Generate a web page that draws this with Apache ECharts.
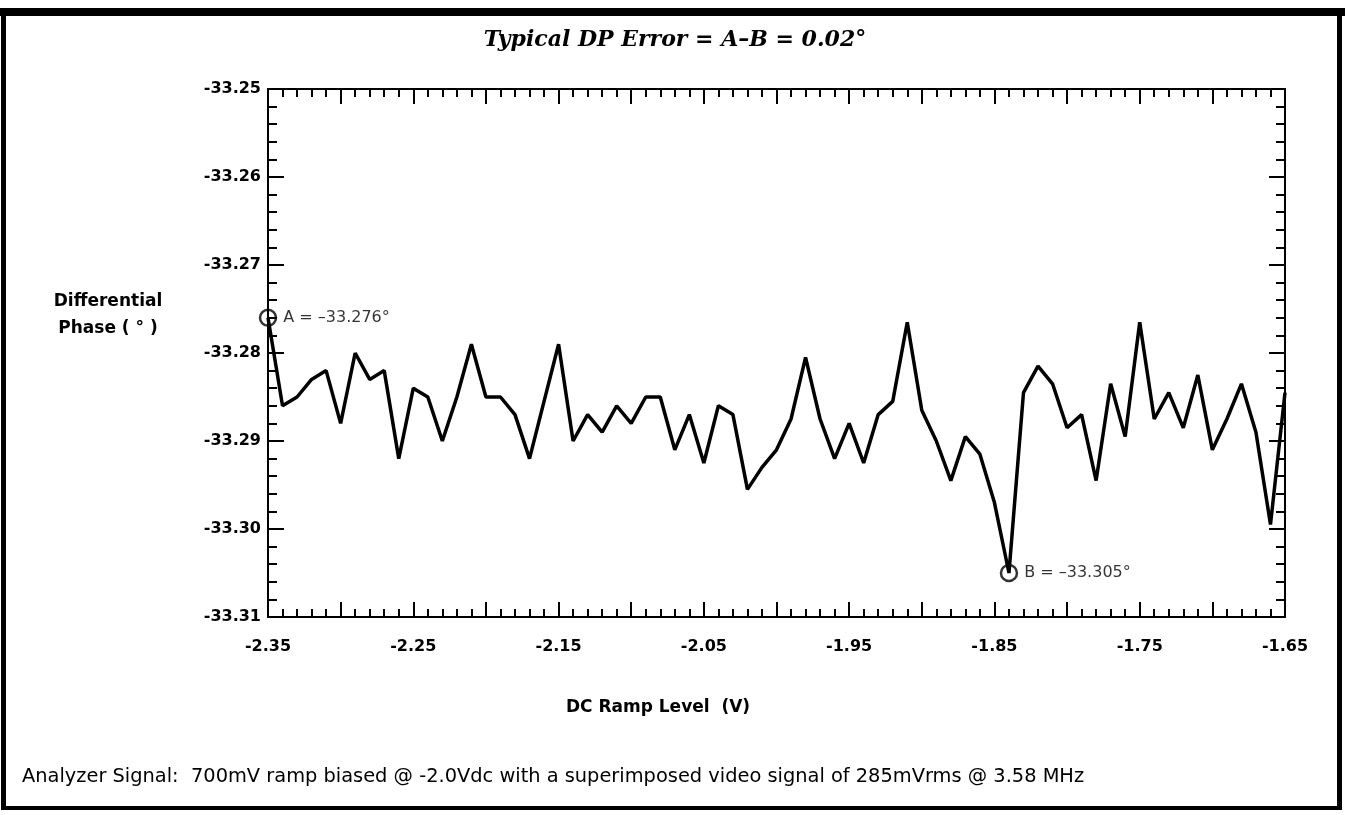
<!DOCTYPE html>
<html>
<head>
<meta charset="utf-8">
<script src="https://cdn.jsdelivr.net/npm/echarts@6/dist/echarts.min.js"></script>
<style>
  html, body { margin: 0; padding: 0; background: #fff; }
  #chart { width: 1345px; height: 815px; }
</style>
</head>
<body>
<div id="chart"></div>
<script>
// ---- Data ----
var voltages = [
  -2.35, -2.34, -2.33, -2.32, -2.31, -2.30, -2.29, -2.28, -2.27, -2.26,
  -2.25, -2.24, -2.23, -2.22, -2.21, -2.20, -2.19, -2.18, -2.17, -2.16,
  -2.15, -2.14, -2.13, -2.12, -2.11, -2.10, -2.09, -2.08, -2.07, -2.06,
  -2.05, -2.04, -2.03, -2.02, -2.01, -2.00, -1.99, -1.98, -1.97, -1.96,
  -1.95, -1.94, -1.93, -1.92, -1.91, -1.90, -1.89, -1.88, -1.87, -1.86,
  -1.85, -1.84, -1.83, -1.82, -1.81, -1.80, -1.79, -1.78, -1.77, -1.76,
  -1.75, -1.74, -1.73, -1.72, -1.71, -1.70, -1.69, -1.68, -1.67, -1.66,
  -1.65
];
var phase = [
  -33.276, -33.286, -33.285, -33.283, -33.282, -33.288, -33.280, -33.283, -33.282, -33.292,
  -33.284, -33.285, -33.290, -33.285, -33.279, -33.285, -33.285, -33.287, -33.292, -33.2855,
  -33.279, -33.290, -33.287, -33.289, -33.286, -33.288, -33.285, -33.285, -33.291, -33.287,
  -33.2925, -33.286, -33.287, -33.2955, -33.293, -33.291, -33.2875, -33.2805, -33.2875, -33.292,
  -33.288, -33.2925, -33.287, -33.2855, -33.2765, -33.2865, -33.290, -33.2945, -33.2895, -33.2915,
  -33.297, -33.305, -33.2845, -33.2815, -33.2835, -33.2885, -33.287, -33.2945, -33.2835, -33.2895,
  -33.2765, -33.2875, -33.2845, -33.2885, -33.2825, -33.291, -33.2875, -33.2835, -33.289, -33.2995,
  -33.2845
];
var markerX = [-2.35, -1.84];
var markerY = [-33.276, -33.305];
var markerLabels = ['A = \u201333.276\u00b0', 'B = \u201333.305\u00b0'];

var titleText = 'Typical DP Error = A\u2013B = 0.02\u00b0';
var yNameLines = ['Differential', 'Phase ( \u00b0 )'];
var xNameText = 'DC Ramp Level  (V)';
var footerText = 'Analyzer Signal:  700mV ramp biased @ -2.0Vdc with a superimposed video signal of 285mVrms @ 3.58 MHz';

var lineData = voltages.map(function (v, i) { return [v, phase[i]]; });
var markerData = markerX.map(function (v, i) { return { value: [v, markerY[i]], label: { formatter: markerLabels[i] } }; });

var FONT = 'DejaVu Sans';

function xLabelFmt(v) {
  var k = Math.round((v + 2.35) / 0.05);
  return (k % 2 === 0) ? v.toFixed(2) : '';
}

var xCommon = {
  type: 'value', min: -2.35, max: -1.65, interval: 0.05,
  axisLine: { show: true, onZero: false, lineStyle: { color: '#000', width: 2 } },
  axisTick: { show: true, inside: true, length: 15, lineStyle: { color: '#000', width: 2 } },
  minorTick: { show: true, splitNumber: 5, length: 8, lineStyle: { color: '#000', width: 2 } },
  splitLine: { show: false }, minorSplitLine: { show: false }
};
var yCommon = {
  type: 'value', min: -33.31, max: -33.25, interval: 0.01,
  axisLine: { show: true, onZero: false, lineStyle: { color: '#000', width: 2 } },
  axisTick: { show: true, inside: true, length: 16, lineStyle: { color: '#000', width: 2 } },
  minorTick: { show: true, splitNumber: 5, length: 9, lineStyle: { color: '#000', width: 2 } },
  splitLine: { show: false }, minorSplitLine: { show: false }
};

var chart = echarts.init(document.getElementById('chart'), null, { renderer: 'canvas' });
chart.setOption({
  backgroundColor: '#fff',
  animation: false,
  grid: { left: 268, right: 60, top: 89, bottom: 198, containLabel: false },
  xAxis: [
    Object.assign({}, xCommon, {
      position: 'bottom',
      axisLabel: { show: true, margin: 22, color: '#000', fontFamily: FONT, fontWeight: 'bold', fontSize: 16, formatter: xLabelFmt, showMinLabel: true, showMaxLabel: true }
    }),
    Object.assign({}, xCommon, { position: 'top', axisLabel: { show: false } })
  ],
  yAxis: [
    Object.assign({}, yCommon, {
      position: 'left',
      axisLabel: { show: true, margin: 7, color: '#000', fontFamily: FONT, fontWeight: 'bold', fontSize: 16, formatter: function (v) { return v.toFixed(2); } }
    }),
    Object.assign({}, yCommon, { position: 'right', axisLabel: { show: false } })
  ],
  series: [
    {
      type: 'line', data: lineData, xAxisIndex: 0, yAxisIndex: 0,
      showSymbol: false, symbol: 'none',
      lineStyle: { color: '#000', width: 3.5 }, z: 3
    },
    {
      type: 'scatter', data: markerData, xAxisIndex: 0, yAxisIndex: 0,
      symbol: 'circle', symbolSize: 16, clip: false,
      itemStyle: { color: 'rgba(255,255,255,0)', borderColor: '#000', borderWidth: 2.5 },
      label: { show: true, position: 'right', distance: 6, color: '#000', fontFamily: FONT, fontSize: 16 },
      z: 4
    }
  ],
  graphic: [
    { type: 'rect', shape: { x: 0, y: 8, width: 1345, height: 8 }, style: { fill: '#000' }, silent: true },
    { type: 'rect', shape: { x: 1, y: 8, width: 5, height: 802 }, style: { fill: '#000' }, silent: true },
    { type: 'rect', shape: { x: 1337, y: 8, width: 5, height: 802 }, style: { fill: '#000' }, silent: true },
    { type: 'rect', shape: { x: 1, y: 806, width: 1341, height: 4 }, style: { fill: '#000' }, silent: true },
    { type: 'text', style: { x: 675, y: 40, text: titleText, textAlign: 'center', textVerticalAlign: 'middle', fill: '#000', font: 'italic bold 22px "DejaVu Serif"' }, silent: true },
    { type: 'text', style: { x: 108, y: 302, text: yNameLines[0], textAlign: 'center', textVerticalAlign: 'middle', fill: '#000', font: 'bold 17px "DejaVu Sans"' }, silent: true },
    { type: 'text', style: { x: 108, y: 329, text: yNameLines[1], textAlign: 'center', textVerticalAlign: 'middle', fill: '#000', font: 'bold 17px "DejaVu Sans"' }, silent: true },
    { type: 'text', style: { x: 658, y: 708, text: xNameText, textAlign: 'center', textVerticalAlign: 'middle', fill: '#000', font: 'bold 17px "DejaVu Sans"' }, silent: true },
    { type: 'text', style: { x: 22, y: 777, text: footerText, textAlign: 'left', textVerticalAlign: 'middle', fill: '#000', font: '19.4px "DejaVu Sans"' }, silent: true }
  ]
});
</script>
</body>
</html>
